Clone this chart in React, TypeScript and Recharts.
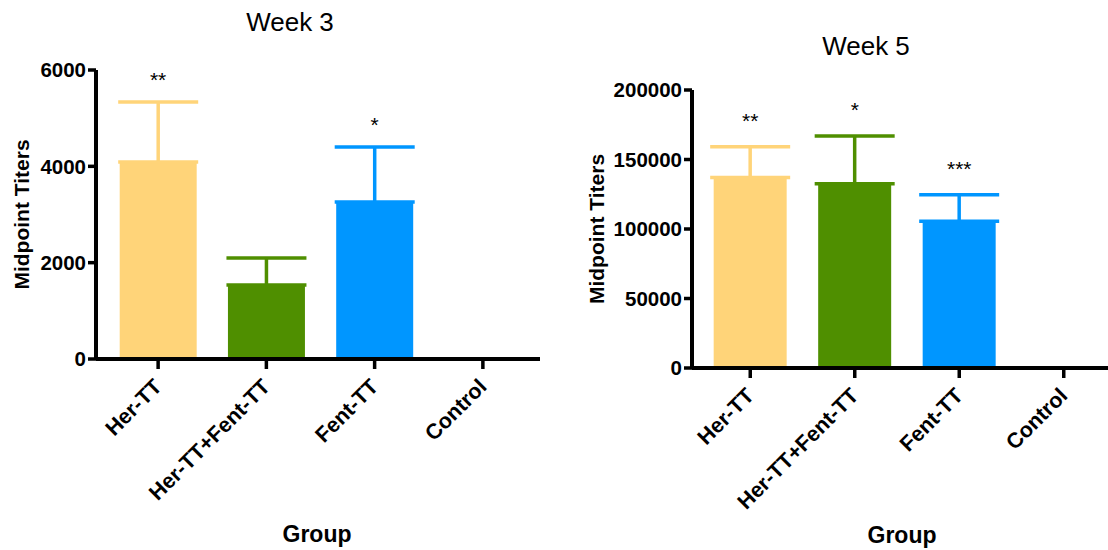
import React from 'react';
import { ComposedChart, Bar, Line, XAxis, YAxis, ErrorBar, Cell, LabelList } from 'recharts';

const groups = ['Her-TT', 'Her-TT+Fent-TT', 'Fent-TT', 'Control'];
const colors3 = ['#FFD479', '#4F8F00', '#0096FF', '#111111'];
const colors5 = ['#FFD479', '#4F8F00', '#0096FF', '#999999'];

const week3Means = [4090, 1536, 3260, 30];
const week3Errors = [1245, 561, 1141, 0];
const week3Sig = ['**', '', '*', ''];
const week3Ticks = [0, 2000, 4000, 6000];

const week5Means = [137100, 132500, 105600, 500];
const week5Errors = [22100, 34400, 19000, 0];
const week5Sig = ['**', '*', '***', ''];
const week5Ticks = [0, 50000, 100000, 150000, 200000];

const FONT = '"Liberation Sans", Arial, Helvetica, sans-serif';

function buildRows(means: number[], errors: number[], sig: string[]) {
  return groups.map((g, i) => {
    const row: any = { group: g, mean: means[i], top: means[i] + errors[i], sig: sig[i] };
    if (errors[i] > 0) row['err' + i] = [0, errors[i]];
    return row;
  });
}

const XTick = (props: any) => {
  const { x, y, payload } = props;
  return (
    <g transform={`translate(${x + 5},${y + 17})`}>
      <text
        x={0}
        y={0}
        textAnchor="end"
        transform="rotate(-45)"
        fontFamily={FONT}
        fontWeight="bold"
        fontSize={21.5}
        fill="#000"
      >
        {payload.value}
      </text>
    </g>
  );
};

type PanelProps = {
  title: string;
  means: number[];
  errors: number[];
  sig: string[];
  ticks: number[];
  colors: string[];
  width: number;
  height: number;
  top: number;
  bottom: number;
  yAxisWidth: number;
  padLeft: number;
  padRight: number;
  barGap: string;
  titleX: number;
  titleY: number;
  labelOffset: number;
  groupX: number;
  groupY: number;
  sigOffset: number;
};

function Panel(p: PanelProps) {
  const rows = buildRows(p.means, p.errors, p.sig);
  const max = p.ticks[p.ticks.length - 1];
  const xAxisHeight = p.height - p.bottom;
  return (
    <ComposedChart
      width={p.width}
      height={p.height}
      data={rows}
      margin={{ top: p.top, right: 0, bottom: 0, left: 0 }}
      barCategoryGap={p.barGap}
    >
      <text x={p.titleX} y={p.titleY} textAnchor="middle" fontFamily={FONT} fontSize={26} fill="#000">
        {p.title}
      </text>
      <text x={p.groupX} y={p.groupY} textAnchor="middle" fontFamily={FONT} fontWeight="bold" fontSize={23} fill="#000">
        Group
      </text>
      <XAxis
        dataKey="group"
        interval={0}
        padding={{ left: p.padLeft, right: p.padRight }}
        axisLine={{ stroke: '#000', strokeWidth: 4 }}
        tickLine={{ stroke: '#000', strokeWidth: 3.5 }}
        tickSize={10}
        tickMargin={2}
        tick={<XTick />}
        height={xAxisHeight}
      />
      <YAxis
        domain={[0, max]}
        ticks={p.ticks}
        interval={0}
        width={p.yAxisWidth}
        axisLine={{ stroke: '#000', strokeWidth: 4 }}
        tickLine={{ stroke: '#000', strokeWidth: 3.5 }}
        tickSize={8}
        tickMargin={2}
        tick={{ fill: '#000', fontFamily: FONT, fontWeight: 'bold', fontSize: 20.5 }}
        label={{
          value: 'Midpoint Titers',
          angle: -90,
          position: 'insideLeft',
          offset: p.labelOffset,
          style: { textAnchor: 'middle', fontFamily: FONT, fontWeight: 'bold', fontSize: 21, fill: '#000' },
        }}
      />
      <Bar dataKey="mean" isAnimationActive={false}>
        {rows.map((r, i) => (
          <Cell key={r.group} fill={p.colors[i]} />
        ))}
        {[0, 1, 2].map((i) => (
          <ErrorBar
            key={i}
            dataKey={'err' + i}
            direction="y"
            width={40}
            stroke={p.colors[i]}
            strokeWidth={3.5}
            isAnimationActive={false}
          />
        ))}
      </Bar>
      <Line dataKey="top" stroke="none" dot={false} activeDot={false} isAnimationActive={false} legendType="none">
        <LabelList dataKey="sig" position="top" offset={p.sigOffset} fill="#000" fontFamily={FONT} fontSize={21} />
      </Line>
    </ComposedChart>
  );
}

export default function App() {
  return (
    <div style={{ position: 'absolute', left: 0, top: 0, width: 1108, height: 550, overflow: 'hidden', background: '#fff' }}>
      <div style={{ position: 'absolute', left: 0, top: 0 }}>
        <Panel
          title="Week 3"
          means={week3Means}
          errors={week3Errors}
          sig={week3Sig}
          ticks={week3Ticks}
          colors={colors3}
          width={540}
          height={550}
          top={70}
          bottom={359}
          yAxisWidth={96}
          padLeft={8}
          padRight={3}
          barGap="14.5%"
          titleX={290}
          titleY={31}
          labelOffset={22}
          groupX={317}
          groupY={542}
          sigOffset={15}
        />
      </div>
      <div style={{ position: 'absolute', left: 560, top: 0 }}>
        <Panel
          title="Week 5"
          means={week5Means}
          errors={week5Errors}
          sig={week5Sig}
          ticks={week5Ticks}
          colors={colors5}
          width={556}
          height={550}
          top={90}
          bottom={368}
          yAxisWidth={132}
          padLeft={6}
          padRight={0}
          barGap="15%"
          titleX={306}
          titleY={55}
          labelOffset={37}
          groupX={342}
          groupY={543}
          sigOffset={19}
        />
      </div>
    </div>
  );
}
